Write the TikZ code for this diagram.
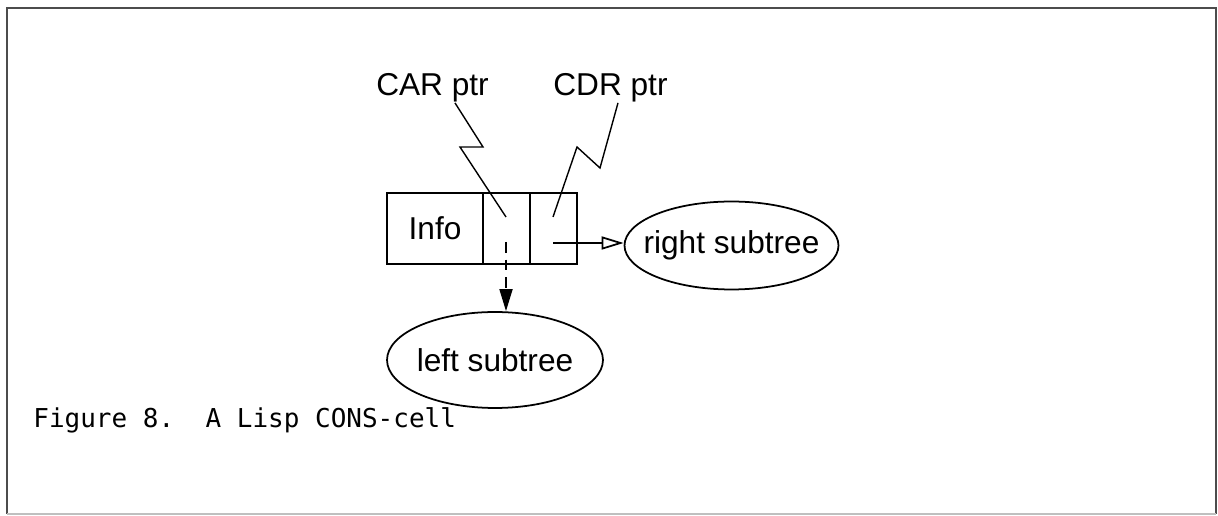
\documentclass[tikz,border=0pt]{standalone}
\usepackage{fontspec}
\setmainfont{Liberation Sans}
\setmonofont{DejaVu Sans Mono}
\usetikzlibrary{positioning, shapes.geometric, arrows.meta}

\begin{document}
\begin{tikzpicture}[
    x=0.02cm, y=-0.02cm,
    cell/.style={draw, line width=1pt, minimum height=1.42cm, inner sep=0pt, outer sep=0pt, font=\fontsize{18}{21}\selectfont},
    subtree/.style={draw, ellipse, line width=1pt, inner sep=0pt, label={[font=\fontsize{18}{21}\selectfont]center:#1}},
    lbl/.style={font=\fontsize{18}{21}\selectfont, inner sep=0pt, anchor=base},
    ptr/.style={line width=0.8pt},
    arrow/.style={line width=1pt, -{Triangle[length=0.44cm, width=0.26cm]}},
    frame/.style={line width=0.8pt, black!70},
]
\useasboundingbox (0,0) rectangle (1218,516);

% page frame
\draw[frame] (7,514) -- (7,8) -- (1216,8) -- (1216,514);
\draw[frame, black!25] (7,514) -- (1216,514);

% the cons cell
\node[cell, minimum width=1.92cm] (info) at (435,228.5) {Info};
\node[cell, minimum width=0.94cm, right=0pt of info] (car) {};
\node[cell, minimum width=0.94cm, right=0pt of car] (cdr) {};

% pointer labels
\node[lbl] (carlbl) at (432.5,96) {CAR ptr};
\node[lbl] (cdrlbl) at (610.5,96) {CDR ptr};

\coordinate (carend) at (506,217);
\coordinate (cdrend) at (553,217);
\draw[ptr] ([xshift=0.45cm]carlbl.south) -- (483,147) -- (460,147) -- (carend);
\draw[ptr] ([xshift=0.15cm]cdrlbl.south) -- (600,168) -- (577,147) -- (cdrend);

% subtrees
\node[subtree={right subtree}, minimum width=4.28cm, minimum height=1.76cm] (rsub) at (731.5,245.5) {};
\node[subtree={left subtree}, minimum width=4.32cm, minimum height=1.92cm] (lsub) at (495,360) {};

\coordinate (cdrtail) at (553,243);
\coordinate (cartail) at (506,242);
\draw[arrow, -{Triangle[open, length=0.44cm, width=0.26cm]}] (cdrtail) -- (cdrtail -| rsub.west);
\draw[arrow, dash pattern=on 6pt off 4pt] (cartail) -- (cartail |- lsub.north);

% caption
\node[anchor=base west, inner sep=0pt, font=\ttfamily\fontsize{14.8}{18}\selectfont] (capt) at (33,428) {Figure 8.\ \ A Lisp CONS-cell};

\end{tikzpicture}
\end{document}
